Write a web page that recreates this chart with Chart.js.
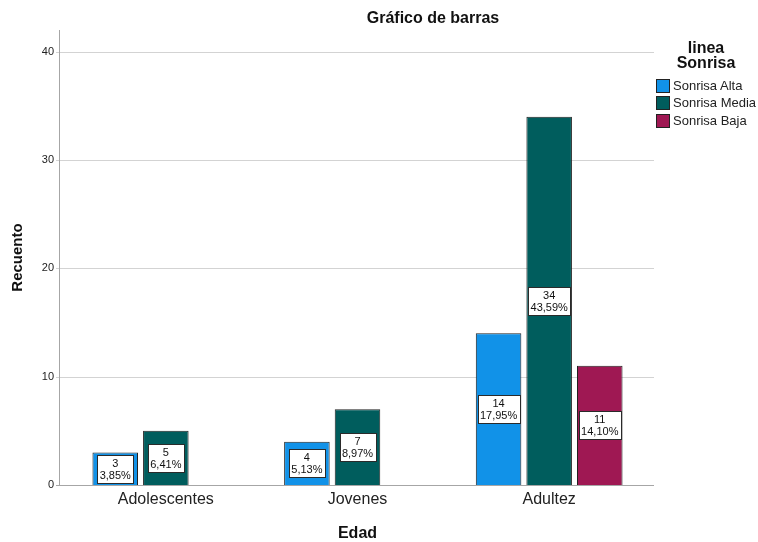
<!DOCTYPE html>
<html lang="es">
<head>
<meta charset="utf-8">
<title>Gráfico de barras</title>
<script src="https://cdn.jsdelivr.net/npm/chart.js@4"></script>
<style>
    body { margin: 0; background: #ffffff; }
    #wrap { position: relative; width: 758px; height: 542px; font-family: "Liberation Sans", Arial, sans-serif; color: #111; }
    #chart-title { position: absolute; left: 333px; width: 200px; top: 9px; text-align: center; font-weight: bold; font-size: 16px; line-height: 18px; }
    #legend-title { position: absolute; left: 656px; width: 100px; top: 40px; text-align: center; font-weight: bold; font-size: 16px; line-height: 15px; }
    .legend-item { position: absolute; left: 656px; height: 14px; font-size: 13px; line-height: 14px; color: #222; white-space: nowrap; }
    .legend-item i { display: inline-block; width: 12px; height: 12px; border: 1px solid #222; vertical-align: top; margin-right: 3px; }
</style>
</head>
<body>
<div id="wrap">
    <canvas id="bar-chart" width="758" height="542"></canvas>
    <div id="chart-title">Gráfico de barras</div>
    <div id="legend-title">linea<br>Sonrisa</div>
    <div id="legend"></div>
</div>
<script>
const categories = ["Adolescentes", "Jovenes", "Adultez"];
const seriesNames = ["Sonrisa Alta", "Sonrisa Media", "Sonrisa Baja"];
const altaCounts = [3, 4, 14];
const mediaCounts = [5, 7, 34];
const bajaCounts = [null, null, 11];
const yTicks = [0, 10, 20, 30, 40];

const seriesColors = ["#1192e8", "#005d5d", "#9f1853"];
const fontFamily = '"Liberation Sans", Arial, sans-serif';
const allCounts = [altaCounts, mediaCounts, bajaCounts];
const totalCount = allCounts.flat().reduce((sum, value) => sum + (value || 0), 0);

function formatPercent(value) {
    return (value / totalCount * 100).toFixed(2).replace(".", ",") + "%";
}

// axis frame drawn a little wider than the plot area, SPSS style
const spssFrame = {
    id: "spssFrame",
    beforeDatasetsDraw(chart) {
        const { ctx, chartArea, scales } = chart;
        const left = chartArea.left - 11;
        const right = chartArea.right + 9;
        ctx.save();
        ctx.lineWidth = 1;
        yTicks.forEach((tick) => {
            const y = Math.round(scales.y.getPixelForValue(tick)) + 0.5;
            ctx.strokeStyle = tick === 0 ? "#a6a6a6" : "#d3d3d3";
            ctx.beginPath();
            ctx.moveTo(left - 3, y);
            ctx.lineTo(right, y);
            ctx.stroke();
        });
        ctx.strokeStyle = "#a6a6a6";
        ctx.beginPath();
        ctx.moveTo(left + 0.5, chartArea.top);
        ctx.lineTo(left + 0.5, chartArea.bottom + 1);
        ctx.stroke();
        ctx.restore();
    },
    afterDatasetsDraw(chart) {
        const { ctx } = chart;
        ctx.save();
        ctx.font = `11px ${fontFamily}`;
        ctx.textAlign = "center";
        ctx.textBaseline = "middle";
        chart.data.datasets.forEach((dataset, datasetIndex) => {
            chart.getDatasetMeta(datasetIndex).data.forEach((bar, index) => {
                const value = dataset.data[index];
                if (value === null) return;
                const lines = [String(value), formatPercent(value)];
                const textWidth = Math.max(...lines.map((line) => ctx.measureText(line).width));
                const boxWidth = Math.round(textWidth + 5);
                const boxHeight = 28;
                const centerY = (bar.y + bar.base) / 2;
                const x = Math.round(bar.x - boxWidth / 2) + 0.5;
                const y = Math.round(centerY - boxHeight / 2) + 0.5;
                ctx.fillStyle = "#ffffff";
                ctx.strokeStyle = "#2a2a2a";
                ctx.fillRect(x, y, boxWidth, boxHeight);
                ctx.strokeRect(x, y, boxWidth, boxHeight);
                ctx.fillStyle = "#111111";
                ctx.fillText(lines[0], bar.x, y + 8);
                ctx.fillText(lines[1], bar.x, y + 20);
            });
        });
        ctx.restore();
    }
};

new Chart(document.querySelector("#bar-chart"), {
    type: "bar",
    data: {
        labels: categories,
        datasets: seriesNames.map((name, index) => ({
            label: name,
            data: allCounts[index],
            backgroundColor: seriesColors[index],
            borderColor: "#222222",
            borderWidth: 1,
            categoryPercentage: 0.792,
            barPercentage: 0.9
        }))
    },
    options: {
        responsive: false,
        animation: false,
        devicePixelRatio: 1,
        layout: { padding: { top: 30, right: 113, bottom: 0, left: 0 } },
        plugins: { legend: { display: false }, tooltip: { enabled: false } },
        scales: {
            x: {
                grid: { display: false, drawTicks: false },
                border: { display: false },
                ticks: { padding: 5, color: "#222", font: { family: fontFamily, size: 16 } },
                title: { display: true, text: "Edad", color: "#111", padding: { top: 0, bottom: 0 }, font: { family: fontFamily, size: 16, weight: "bold", lineHeight: 1 } },
                afterFit: (scale) => { scale.height = 57; }
            },
            y: {
                min: 0,
                max: 42,
                grid: { display: false, drawTicks: false },
                border: { display: false },
                afterBuildTicks: (scale) => { scale.ticks = yTicks.map((value) => ({ value })); },
                ticks: { padding: 16, color: "#222", font: { family: fontFamily, size: 11 } },
                title: { display: true, text: "Recuento", color: "#111", padding: { top: 9, bottom: 4 }, font: { family: fontFamily, size: 15, weight: "bold" } },
                afterFit: (scale) => { scale.width = 70; }
            }
        }
    },
    plugins: [spssFrame]
});

const legend = document.querySelector("#legend");
const legendTops = [79, 96, 114];
seriesNames.forEach((name, index) => {
    const item = document.createElement("div");
    item.className = "legend-item";
    item.style.top = `${legendTops[index]}px`;
    item.innerHTML = "<i></i><span></span>";
    item.querySelector("i").style.background = seriesColors[index];
    item.querySelector("span").textContent = name;
    legend.appendChild(item);
});
</script>
</body>
</html>
